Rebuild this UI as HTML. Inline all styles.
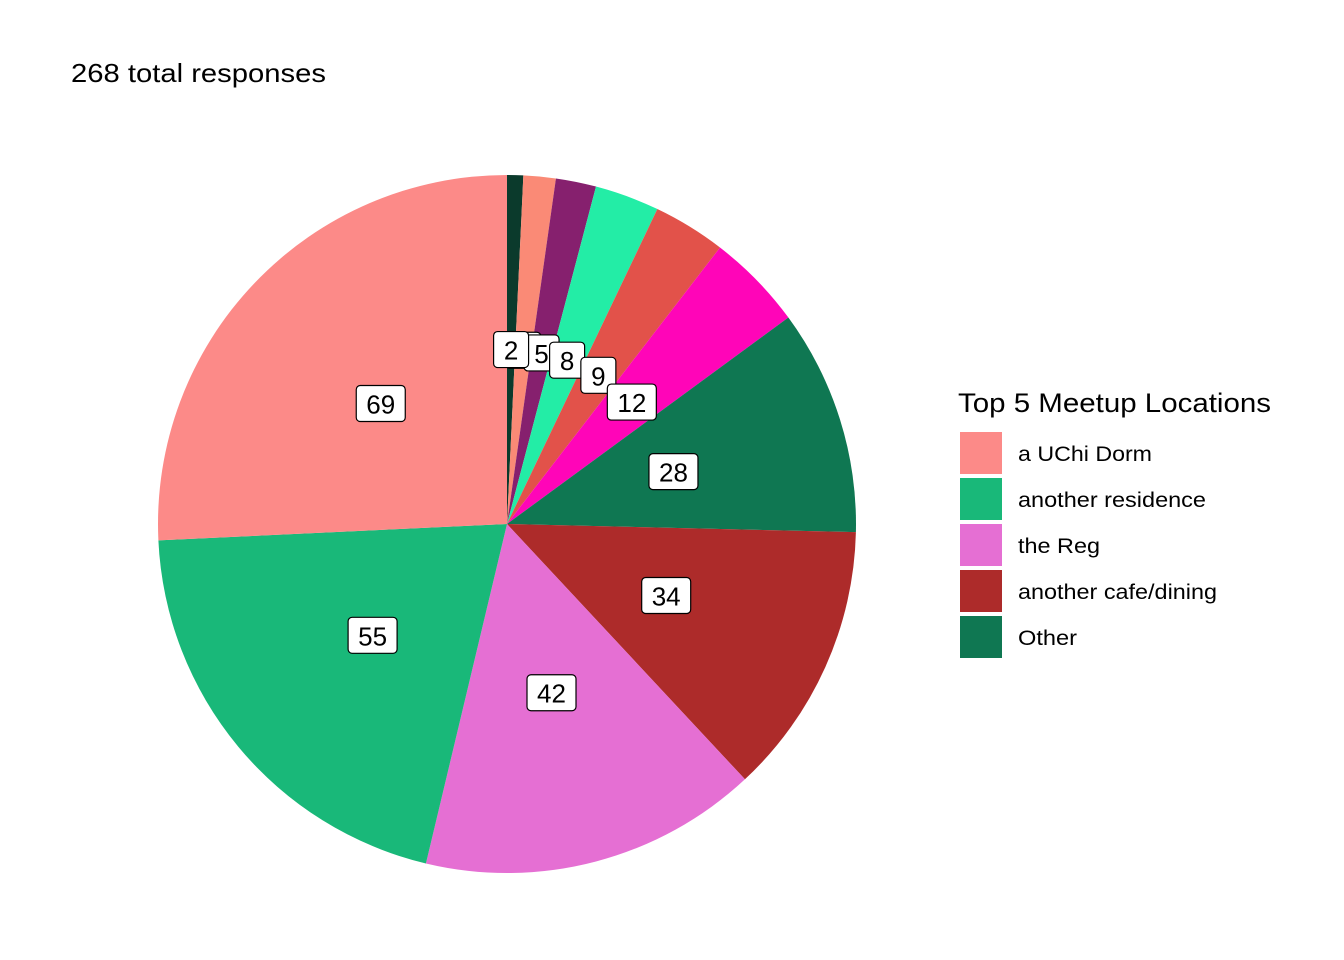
<!DOCTYPE html>
<html><head><meta charset="utf-8"><style>
body{margin:0;background:#fff;}
svg{display:block;font-family:"Liberation Sans",Arial,sans-serif;}
</style></head><body>
<svg id="chart" width="1344" height="960">
<rect width="1344" height="960" fill="#fff"/>
<text x="71" y="82" font-size="26" textLength="255" lengthAdjust="spacingAndGlyphs" fill="#000">268 total responses</text>
<g id="slices"></g>
<g id="labels"></g>
<text x="958" y="412" font-size="27" textLength="313" lengthAdjust="spacingAndGlyphs" fill="#000">Top 5 Meetup Locations</text>
<g id="legend"></g>
</svg>
<script>
const values = [2, 4, 5, 8, 9, 12, 28, 34, 42, 55, 69];
const colors = ["#0B3A2C","#FA8A76","#86206E","#23EDA6","#E2524A","#FF05B8","#0F7752","#AD2B2A","#E56FD3","#19B879","#FC8A88"];
const legendLabels = ["a UChi Dorm","another residence","the Reg","another cafe/dining","Other"];
const legendColors = ["#FC8A88","#19B879","#E56FD3","#AD2B2A","#0F7752"];
const legendWidths = [134,188,82,199,59];

const NS="http://www.w3.org/2000/svg";
const cx=507, cy=524, R=349;
const total=values.reduce((a,b)=>a+b,0);
function pt(frac,r){const a=frac*2*Math.PI;return [cx+r*Math.sin(a), cy-r*Math.cos(a)];}
const sg=document.getElementById('slices'), lg=document.getElementById('labels');
let cum=0;
const labelEls=[];
values.forEach((v,i)=>{
  const f0=cum/total, f1=(cum+v)/total; cum+=v;
  const [x0,y0]=pt(f0,R),[x1,y1]=pt(f1,R);
  const p=document.createElementNS(NS,'path');
  p.setAttribute('d',`M${cx},${cy}L${x0},${y0}A${R},${R} 0 ${f1-f0>0.5?1:0} 1 ${x1},${y1}Z`);
  p.setAttribute('fill',colors[i]);
  
  
  sg.appendChild(p);
  const [lx,ly]=pt((f0+f1)/2,R/2);
  const g=document.createElementNS(NS,'g');
  
  
  const t=String(v); const w=t.length*14+21;
  const r=document.createElementNS(NS,'rect');
  r.setAttribute('x',lx-w/2);r.setAttribute('y',ly-18);r.setAttribute('width',w);r.setAttribute('height',36);
  r.setAttribute('rx',4);r.setAttribute('fill','#fff');r.setAttribute('stroke','#000');r.setAttribute('stroke-width','1.2');
  const tx=document.createElementNS(NS,'text');
  tx.setAttribute('x',lx);tx.setAttribute('y',ly+10);tx.setAttribute('text-anchor','middle');tx.setAttribute('font-size','26');
  tx.textContent=t;
  g.appendChild(r);g.appendChild(tx);
  labelEls.push(g);
});
labelEls.slice(1).forEach(g=>lg.appendChild(g));
lg.appendChild(labelEls[0]);
const leg=document.getElementById('legend');
legendLabels.forEach((l,i)=>{
  const g=document.createElementNS(NS,'g');
  
  
  const y=432+i*46;
  const r=document.createElementNS(NS,'rect');
  r.setAttribute('x',960);r.setAttribute('y',y);r.setAttribute('width',42);r.setAttribute('height',42);r.setAttribute('fill',legendColors[i]);
  const t=document.createElementNS(NS,'text');
  t.setAttribute('x',1018);t.setAttribute('y',y+29);t.setAttribute('font-size','21');
  t.setAttribute('textLength',legendWidths[i]);t.setAttribute('lengthAdjust','spacingAndGlyphs');
  t.textContent=l;
  g.appendChild(r);g.appendChild(t);leg.appendChild(g);
});
</script>
</body></html>
